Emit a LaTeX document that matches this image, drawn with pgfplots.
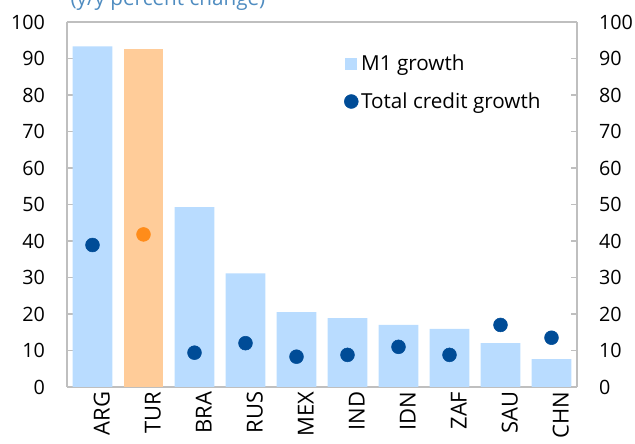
\documentclass[border=0pt]{standalone}
\usepackage{pgfplots}
\pgfplotsset{compat=1.18}
\usepackage{fontspec}
\setmainfont{Open Sans}
\definecolor{barblue}{RGB}{185,220,255}
\definecolor{barorange}{RGB}{255,204,153}
\definecolor{dotblue}{RGB}{0,76,151}
\definecolor{dotorange}{RGB}{255,140,26}
\definecolor{axgray}{RGB}{191,191,191}
\definecolor{titleblue}{RGB}{79,140,192}
\begin{document}
\begin{tikzpicture}
\pgfplotsset{
  common/.style={
    scale only axis, width=382.5pt, height=273.75pt,
    xmin=-0.5, xmax=9.5, ymin=0, ymax=100,
    ytick={0,10,...,100},
    axis line style={axgray, line width=1.2pt},
    tick style={axgray, line width=1pt},
    major tick length=4.5pt,
    tick align=inside,
    /pgf/number format/assume math mode=true,
    tick label style={font=\fontsize{14.8}{16}\selectfont, black},
  }
}
\begin{axis}[common,
  axis y line*=left, axis x line*=box,
  ytick pos=left,
  yticklabel style={xshift=-13pt},
  xtick={0,...,9},
  xticklabels={ARG,TUR,BRA,RUS,MEX,IND,IDN,ZAF,SAU,CHN},
  xticklabel style={rotate=90, anchor=east, yshift=-7pt, font=\fontsize{16.5}{18}\selectfont},
  xtick style={draw=none},
  minor xtick={0.5,1.5,...,8.5},
  minor tick length=4.5pt,
  minor tick style={axgray, line width=1pt},
  xtick pos=bottom,
  legend style={draw=none, fill=none, at={(0.535,0.925)}, anchor=north west,
     font=\fontsize{15.5}{17}\selectfont, row sep=11pt,
     legend cell align=left},
  legend image code/.code={},
]
\addplot[ybar, bar width=0.78, bar shift=0pt, fill=barblue, draw=none,
  legend image code/.code={\fill[barblue] (0pt,-4.5pt) rectangle (9pt,4.5pt);}]
  coordinates {(0,93.3) (2,49.3) (3,31.1) (4,20.5) (5,18.9) (6,17.0) (7,15.9) (8,12.0) (9,7.6)};
\addlegendentry{M1 growth}
\addplot[ybar, bar width=0.78, bar shift=0pt, fill=barorange, draw=none, forget plot]
  coordinates {(1,92.6)};
\addplot[only marks, mark=*, mark size=5.2pt, color=dotblue,
  legend image code/.code={\fill[dotblue] (4.5pt,0pt) circle (5.2pt);}]
  coordinates {(0,38.9) (2,9.4) (3,12.0) (4,8.3) (5,8.8) (6,11.0) (7,8.8) (8,17.0) (9,13.5)};
\addlegendentry{Total credit growth}
\addplot[only marks, mark=*, mark size=5.2pt, color=dotorange, forget plot]
  coordinates {(1,41.8)};
\end{axis}
\node[anchor=base west, text=titleblue, font=\fontsize{15.5}{17}\selectfont, inner sep=0pt]
  at ([xshift=2.5pt,yshift=12pt]current axis.north west) {(y/y percent change)};
\begin{axis}[common,
  axis y line*=right, axis x line=none,
  yticklabel style={xshift=13pt},
  xtick=\empty,
]
\addplot[draw=none] coordinates {(0,0)};
\end{axis}
\pgfresetboundingbox
\path[use as bounding box] ([xshift=-50.25pt,yshift=-42.75pt]current axis.south west) rectangle ([xshift=43.5pt,yshift=16.5pt]current axis.north east);
\end{tikzpicture}
\end{document}
